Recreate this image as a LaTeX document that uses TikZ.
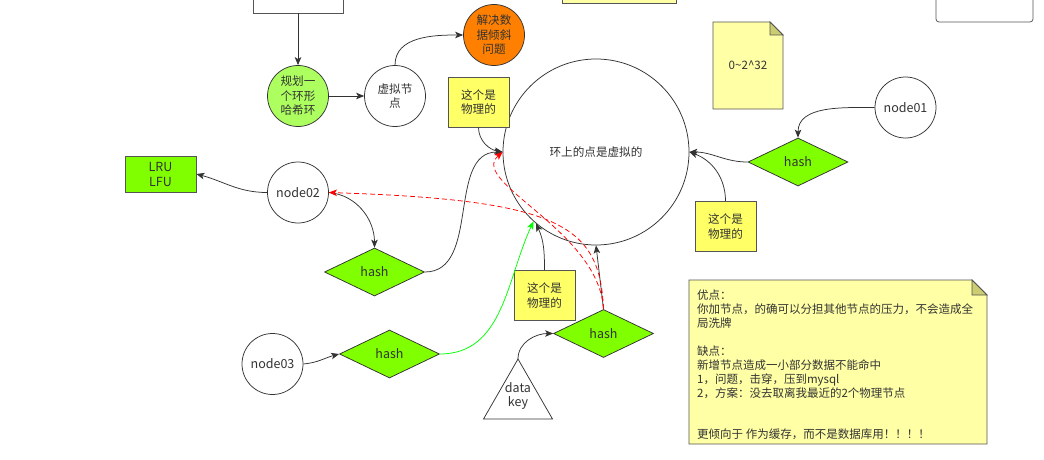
\documentclass[tikz,border=0pt]{standalone}
\usepackage{fontspec}
\setmainfont{Noto Sans CJK SC}
\usetikzlibrary{shapes.geometric,arrows.meta}
\definecolor{txt}{HTML}{333333}
\definecolor{ln}{HTML}{333333}
\definecolor{bord}{HTML}{555555}
\definecolor{yel}{HTML}{FFFF66}
\definecolor{notey}{HTML}{FFFFA6}
\definecolor{foldc}{HTML}{CCCC70}
\definecolor{hashgreen}{HTML}{80FF00}
\definecolor{lightgreen}{HTML}{ADFF5F}
\definecolor{orangec}{HTML}{FF8000}
\definecolor{greenline}{HTML}{00FF00}
\begin{document}
\begin{tikzpicture}[x=1pt,y=-1pt,
  every node/.style={text=txt},
  lbl/.style={font=\fontsize{11.6}{14.5}\selectfont, align=center},
  circ/.style={circle, draw=ln, line width=0.75pt, fill=white, minimum size=#1, inner sep=0pt, lbl},
  circ/.default=61pt,
  hashd/.style={diamond, draw=ln, line width=0.75pt, fill=hashgreen, minimum width=100pt, minimum height=48pt, inner sep=0pt, font=\fontsize{12.5}{14}\selectfont},
  ybox/.style={rectangle, draw=bord, line width=0.75pt, fill=yel, minimum width=61pt, minimum height=50pt, inner sep=0pt, lbl},
  arr/.style={draw=ln, line width=0.75pt, -{Stealth[length=8pt,width=6.5pt,inset=2pt]}},
  garr/.style={draw=greenline, line width=0.75pt, -{Stealth[length=8pt,width=6.5pt,inset=2pt]}},
  rdash/.style={draw=red, line width=0.75pt, dash pattern=on 5pt off 3pt, -{Stealth[length=8pt,width=6.5pt,inset=2pt]}},
]
\useasboundingbox (0,0) rectangle (1044,460);
\clip (0,0) rectangle (1044,460);
\fill[white] (0,0) rectangle (1044,460);

% top partial shapes
\node[rectangle, draw=bord, line width=0.75pt, fill=white, minimum width=90pt, minimum height=30pt] (topbox) at (298,-2) {};
\draw[draw=bord, line width=0.75pt, fill=notey] (562,-6) rectangle (676,3);
\draw[draw=bord, line width=0.75pt, rounded corners=3pt] (936,-10) rectangle (1033,22);

% circles
\node[circ, fill=lightgreen] (gcirc) at (298,96) {规划一\\个环形\\哈希环};
\node[circ] (vcirc) at (395,96) {虚拟节\\点};
\node[circ, fill=orangec] (ocirc) at (494,35) {解决数\\据倾斜\\问题};
\node[circ=186pt] (ring) at (596,152) {环上的点是虚拟的};
\node[circ, font=\fontsize{12.5}{14}\selectfont] (n01) at (905.5,107.5) {node01};
\node[circ, font=\fontsize{12.5}{14}\selectfont] (n02) at (298,192.5) {node02};
\node[circ, font=\fontsize{12.5}{14}\selectfont] (n03) at (272.5,364) {node03};

% yellow boxes
\node[ybox] (yb1) at (478.5,102) {这个是\\物理的};
\node[ybox] (yb3) at (725.5,226.5) {这个是\\物理的};
\node[ybox] (yb2) at (544.5,295.5) {这个是\\物理的};

% LRU box
\node[rectangle, draw=bord, line width=0.75pt, fill=hashgreen, minimum width=71pt, minimum height=36pt, inner sep=0pt, lbl, font=\fontsize{12.5}{15}\selectfont] (lru) at (160.5,174) {LRU\\LFU};

% diamonds
\node[hashd] (h1) at (798,162) {hash};
\node[hashd] (h2) at (374.5,272) {hash};
\node[hashd] (h3) at (603.5,333.5) {hash};
\node[hashd] (h4) at (389.5,354) {hash};

% triangle data key
\coordinate (dk) at (518,359);
\coordinate (dkl) at (483.5,419);
\coordinate (dkr) at (552.5,419);
\draw[draw=ln, line width=0.75pt, fill=white] (dk) -- (dkr) -- (dkl) -- cycle;
\node[lbl, font=\fontsize{12.5}{14}\selectfont, inner sep=0pt] (dktext) at (518,396) {data\\key};

% notes
\filldraw[draw=bord, line width=0.75pt, fill=notey] (713,22) -- (770,22) -- (783,35) -- (783,109) -- (713,109) -- cycle;
\filldraw[draw=bord, line width=0.75pt, fill=foldc] (770,22) -- (770,35) -- (783,35) -- cycle;
\node[font=\fontsize{11.6}{14}\selectfont] (range) at (748,65) {0\textasciitilde 2\textasciicircum 32};

\filldraw[draw=bord, line width=0.75pt, fill=notey] (689,280) -- (972,280) -- (987,295) -- (987,444) -- (689,444) -- cycle;
\filldraw[draw=bord, line width=0.75pt, fill=foldc] (972,280) -- (972,295) -- (987,295) -- cycle;
\node[anchor=north west, inner sep=0pt, align=left, font=\fontsize{11.5}{13.9}\selectfont] (pros) at (697,290)
{优点：\\你加节点，的确可以分担其他节点的压力，不会造成全\\局洗牌\\\mbox{}\\缺点：\\新增节点造成一小部分数据不能命中\\1，问题，击穿，压到mysql\\2，方案：没去取离我最近的2个物理节点\\\mbox{}\\\mbox{}\\更倾向于 作为缓存，而不是数据库用！！！！};

% connectors
\draw[arr] (topbox.south) -- (gcirc.north);
\draw[arr] (gcirc.east) -- (vcirc.west);
\draw[arr] (vcirc.north) to[out=90,in=180] (ocirc.west);
\draw[arr] (n01.west) to[out=180,in=90] (h1.north);
\draw[arr] (h1.west) to[out=180,in=0] (ring.east);
\draw[arr] (yb3.north) to[out=90,in=-20] (ring.east);
\draw[arr] (n02.west) to[out=180,in=-15] (lru.east);
\draw[arr] (n02.east) to[out=-5,in=90] (h2.north);
\draw[arr] (h2.east) to[out=0,in=180] (ring.west);
\draw[arr] (yb1.south) to[out=-90,in=170] (ring.west);
\draw[arr] (yb2.north) to[out=90,in=-65] (ring.-130);
\draw[garr] (h4.east) to[out=0,in=-115] (ring.-132);
\draw[arr] (h3.north) -- (ring.-90);
\draw[arr] (dk) to[out=90,in=180] (h3.west);
\draw[arr] (n03.east) to[out=5,in=195] (h4.west);
\draw[rdash] (h3.north) .. controls (599,230) and (468,182) .. (ring.west);
\draw[rdash] (h3.north) .. controls (600,225) and (560,200) .. (n02.east);
\end{tikzpicture}
\end{document}
